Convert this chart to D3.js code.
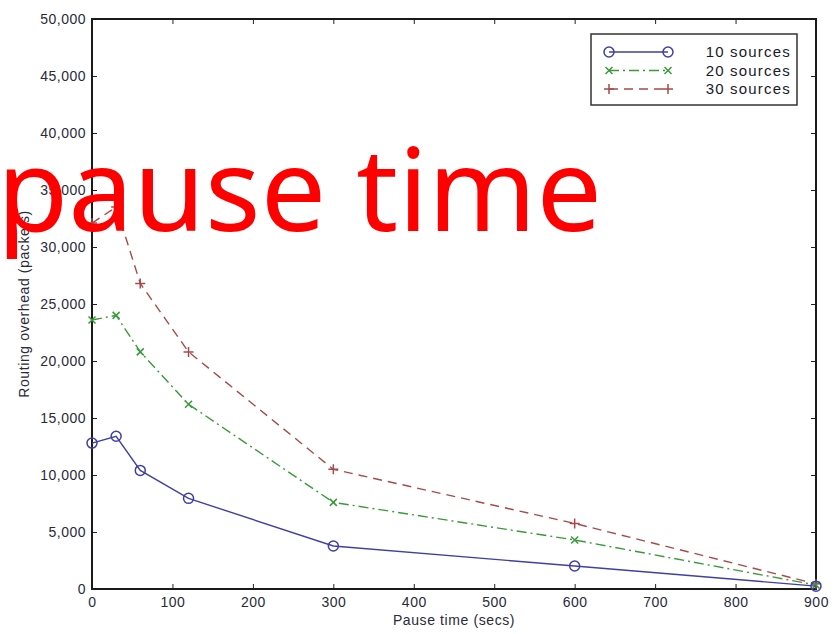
<!DOCTYPE html>
<html>
<head>
<meta charset="utf-8">
<script src="https://cdn.jsdelivr.net/npm/d3@7"></script>
<style>
  body { margin: 0; background: #fff; }
  svg text { font-family: "Liberation Sans", Arial, sans-serif; }
</style>
</head>
<body>
<div id="chart"></div>
<script>
var width = 838,
    height = 634;

// pause times (secs)
var pauseTimes = [0, 30, 60, 120, 300, 600, 900];
var seriesNames = ["10 sources", "20 sources", "30 sources"];
var src10 = [12800, 13400, 10400, 7950, 3770, 2020, 250];
var src20 = [23600, 24000, 20800, 16200, 7600, 4300, 350];
var src30 = [32100, 33500, 26800, 20800, 10500, 5750, 450];
var xTicks = [0, 100, 200, 300, 400, 500, 600, 700, 800, 900];
var yTicks = [0, 5000, 10000, 15000, 20000, 25000, 30000, 35000, 40000, 45000, 50000];

var margin = {left: 92, top: 19, right: 22, bottom: 45};
var x = d3.scaleLinear().domain([0, 900]).range([margin.left, width - margin.right]);
var y = d3.scaleLinear().domain([0, 50000]).range([height - margin.bottom, margin.top]);

var svg = d3.select("#chart").append("svg")
    .attr("width", width)
    .attr("height", height);

var fmt = d3.format(",");

// axes, ticks pointing inward like matlab
var xAxisB = d3.axisBottom(x).tickValues(xTicks).tickSizeInner(-5).tickSizeOuter(0).tickPadding(8).tickFormat(d3.format("d"));
var xAxisT = d3.axisTop(x).tickValues(xTicks).tickSizeInner(-5).tickSizeOuter(0).tickFormat("");
var yAxisL = d3.axisLeft(y).tickValues(yTicks).tickSizeInner(-5).tickSizeOuter(0).tickPadding(6).tickFormat(fmt);
var yAxisR = d3.axisRight(y).tickValues(yTicks).tickSizeInner(-5).tickSizeOuter(0).tickFormat("");

var styleAxis = function (g) {
    g.select(".domain").remove();
    g.selectAll(".tick line").attr("stroke", "#222").attr("stroke-width", 1);
    g.selectAll(".tick text").attr("fill", "#2a2a3a").attr("font-size", 14)
        .attr("letter-spacing", 0.5)
        .attr("font-family", "Liberation Sans, Arial, sans-serif");
};

svg.append("g").attr("transform", "translate(0," + y(0) + ")").call(xAxisB).call(styleAxis);
svg.append("g").attr("transform", "translate(0," + y(50000) + ")").call(xAxisT).call(styleAxis);
svg.append("g").attr("transform", "translate(" + x(0) + ",0)").call(yAxisL).call(styleAxis);
svg.append("g").attr("transform", "translate(" + x(900) + ",0)").call(yAxisR).call(styleAxis);

svg.append("rect")
    .attr("x", x(0))
    .attr("y", y(50000))
    .attr("width", x(900) - x(0))
    .attr("height", y(0) - y(50000))
    .attr("fill", "none")
    .attr("stroke", "#1a1a1a")
    .attr("stroke-width", 2);

// axis titles
svg.append("text")
    .attr("x", (x(0) + x(900)) / 2)
    .attr("y", 625)
    .attr("text-anchor", "middle")
    .attr("font-size", 14)
    .attr("letter-spacing", 0.6)
    .attr("fill", "#2a2a3a")
    .text("Pause time (secs)");

svg.append("text")
    .attr("transform", "translate(29," + y(25000) + ") rotate(-90)")
    .attr("text-anchor", "middle")
    .attr("font-size", 14)
    .attr("letter-spacing", 0.6)
    .attr("fill", "#2a2a3a")
    .text("Routing overhead (packets)");

var series = [
    {name: seriesNames[0], vals: src10, color: "#3f3fa6", dash: null, marker: "circle"},
    {name: seriesNames[1], vals: src20, color: "#3a9a3a", dash: "10,4,2,4", marker: "x"},
    {name: seriesNames[2], vals: src30, color: "#a84a4a", dash: "9,6", marker: "plus"}
];

var line = d3.line()
    .x(function (d) { return x(d[0]); })
    .y(function (d) { return y(d[1]); });

var drawMarker = function (g, type, cx, cy, color) {
    if (type === "circle") {
        g.append("circle").attr("cx", cx).attr("cy", cy).attr("r", 5)
            .attr("fill", "none").attr("stroke", color).attr("stroke-width", 1.5);
    } else if (type === "x") {
        var s = 3.5;
        g.append("path").attr("d", "M" + (cx - s) + "," + (cy - s) + "L" + (cx + s) + "," + (cy + s) +
            "M" + (cx - s) + "," + (cy + s) + "L" + (cx + s) + "," + (cy - s))
            .attr("stroke", color).attr("stroke-width", 1.5);
    } else {
        var p = 5;
        g.append("path").attr("d", "M" + (cx - p) + "," + cy + "L" + (cx + p) + "," + cy +
            "M" + cx + "," + (cy - p) + "L" + cx + "," + (cy + p))
            .attr("stroke", color).attr("stroke-width", 1.5);
    }
};

series.slice().reverse().forEach(function (s) {
    var pts = pauseTimes.map(function (t, i) { return [t, s.vals[i]]; });
    svg.append("path")
        .datum(pts)
        .attr("d", line)
        .attr("fill", "none")
        .attr("stroke", s.color)
        .attr("stroke-width", 1.4)
        .attr("stroke-dasharray", s.dash);
    var g = svg.append("g");
    pts.forEach(function (p) { drawMarker(g, s.marker, x(p[0]), y(p[1]), s.color); });
});

// legend
var legend = svg.append("g");
legend.append("rect")
    .attr("x", 591).attr("y", 34).attr("width", 206).attr("height", 71)
    .attr("fill", "#fff").attr("stroke", "#333").attr("stroke-width", 1.5);

series.forEach(function (s, i) {
    var ly = 52 + i * 18.5;
    legend.append("line")
        .attr("x1", 609).attr("x2", 668).attr("y1", ly).attr("y2", ly)
        .attr("stroke", s.color).attr("stroke-width", 1.4)
        .attr("stroke-dasharray", s.dash);
    drawMarker(legend, s.marker, 609, ly, s.color);
    drawMarker(legend, s.marker, 668, ly, s.color);
    legend.append("text")
        .attr("x", 791).attr("y", ly + 5)
        .attr("text-anchor", "end")
        .attr("font-size", 15)
        .attr("letter-spacing", 1.2)
        .attr("fill", "#1a1a2a")
        .text(s.name);
});

// big red overlay caption
svg.append("text")
    .attr("x", -3)
    .attr("y", 231)
    .style("font-family", "'Noto Sans', sans-serif")
    .attr("font-size", 116)
    .attr("fill", "#ff0000")
    .text("pause time");
</script>
</body>
</html>
